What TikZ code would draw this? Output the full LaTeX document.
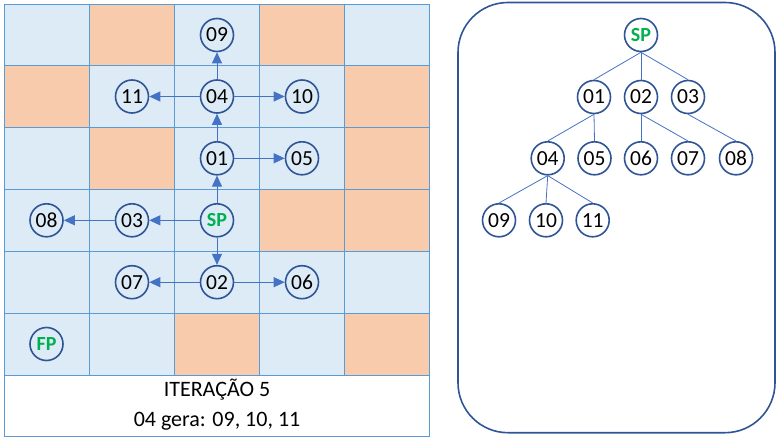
\documentclass[tikz,border=0pt]{standalone}
\usepackage{fontspec}
\setmainfont{Carlito}
\usetikzlibrary{arrows.meta}
\definecolor{cellblue}{HTML}{DDEBF7}
\definecolor{cellorange}{HTML}{F8CBAD}
\definecolor{gridline}{HTML}{5B9BD5}
\definecolor{circborder}{HTML}{2F5597}
\definecolor{arrowblue}{HTML}{4472C4}
\definecolor{spgreen}{HTML}{00B050}
\tikzset{
  st/.style={circle, draw=circborder, line width=1.6pt, fill=white, minimum size=33pt, inner sep=0pt, font=\fontsize{21.5}{21.5}\selectfont},
  stc/.style={circle, draw=circborder, line width=1.6pt, fill=cellblue, minimum size=33pt, inner sep=0pt, font=\fontsize{21.5}{21.5}\selectfont},
  greenlbl/.style={text=spgreen, font=\fontsize{20}{20}\selectfont\bfseries},
  arr/.style={draw=arrowblue, line width=1pt, -{Triangle[length=11pt,width=10pt]}, arrowblue},
  tl/.style={draw=arrowblue, line width=0.8pt},
}
\begin{document}
\begin{tikzpicture}[x=1pt,y=-1pt]
\useasboundingbox (0,0) rectangle (779,441);
% grid
\def\xs{{4.3,89.5,174.7,259.7,344.8,429.7}}
\def\ys{{4.3,65.7,127.3,189.3,251.3,313.0,375.0}}
\fill[cellblue] (4.3,4.3) rectangle (429.7,375);
\foreach \c/\r in {1/0,3/0,0/1,4/1,1/2,4/2,3/3,4/3,2/5,4/5}{
  \pgfmathsetmacro{\xa}{\xs[\c]}
  \pgfmathsetmacro{\xb}{\xs[\c+1]}
  \pgfmathsetmacro{\ya}{\ys[\r]}
  \pgfmathsetmacro{\yb}{\ys[\r+1]}
  \fill[cellorange] (\xa,\ya) rectangle (\xb,\yb);
}
\foreach \i in {0,...,5}{
  \pgfmathsetmacro{\xx}{\xs[\i]}
  \draw[gridline, line width=0.9pt] (\xx,4.3) -- (\xx,375);
}
\foreach \i in {0,...,6}{
  \pgfmathsetmacro{\yy}{\ys[\i]}
  \draw[gridline, line width=0.9pt] (4.3,\yy) -- (429.7,\yy);
}
\draw[gridline, line width=0.9pt] (4.3,375) rectangle (429.7,436.7);
\node[font=\fontsize{22}{22}\selectfont] (t1) at (217,390) {ITERAÇÃO 5};
\node[font=\fontsize{22}{22}\selectfont] (t2) at (217,421) {04 gera: 09, 10, 11};
% grid nodes
\node[stc] (g09) at (217,35) {09};
\node[stc] (g11) at (132,96.5) {11};
\node[stc] (g04) at (217,96.5) {04};
\node[stc] (g10) at (302,96.5) {10};
\node[stc] (g01) at (217,158.3) {01};
\node[stc] (g05) at (302,158.3) {05};
\node[stc] (g08) at (46.5,220.3) {08};
\node[stc] (g03) at (132,220.3) {03};
\node[stc, greenlbl] (gSP) at (217,220.3) {SP};
\node[stc] (g07) at (132,282.2) {07};
\node[stc] (g02) at (217,282.2) {02};
\node[stc] (g06) at (302,282.2) {06};
\node[stc, greenlbl] (gFP) at (46.5,344) {FP};
\draw[arr] (gSP) -- (g01);
\draw[arr] (g01) -- (g04);
\draw[arr] (g04) -- (g09);
\draw[arr] (g04) -- (g11);
\draw[arr] (g04) -- (g10);
\draw[arr] (g01) -- (g05);
\draw[arr] (gSP) -- (g03);
\draw[arr] (g03) -- (g08);
\draw[arr] (gSP) -- (g02);
\draw[arr] (g02) -- (g07);
\draw[arr] (g02) -- (g06);
% right panel
\draw[circborder, line width=1.6pt, rounded corners=50pt] (458,2.5) rectangle (775,432.7);
\node[st, greenlbl] (tSP) at (641,35) {SP};
\node[st] (t01) at (594,97) {01};
\node[st] (t02) at (641,97) {02};
\node[st] (t03) at (688,97) {03};
\node[st] (t04) at (547.7,158.3) {04};
\node[st] (t05) at (594.5,158.3) {05};
\node[st] (t06) at (641,158.3) {06};
\node[st] (t07) at (688,158.3) {07};
\node[st] (t08) at (736,158.3) {08};
\node[st] (t09) at (499,220.3) {09};
\node[st] (t10) at (546,220.3) {10};
\node[st] (t11) at (592.7,220.3) {11};
\foreach \p/\c in {tSP/t01,tSP/t02,tSP/t03,t01/t04,t01/t05,t02/t06,t02/t07,t03/t08,t04/t09,t04/t10,t04/t11}{
  \draw[tl] (\p.south) -- (\c.north);
}
\end{tikzpicture}
\end{document}
